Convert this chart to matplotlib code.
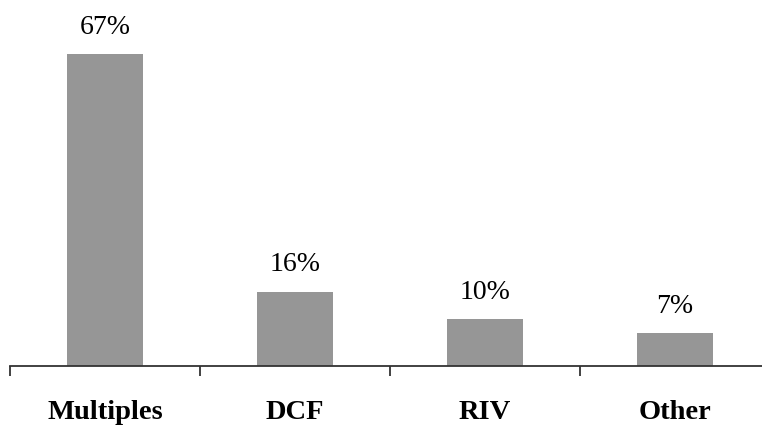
import matplotlib
matplotlib.use("Agg")
import matplotlib.pyplot as plt
import numpy as np

categories = ["Multiples", "DCF", "RIV", "Other"]
shares = [67, 16, 10, 7]
value_labels = ["67%", "16%", "10%", "7%"]

W, H, DPI = 762, 427, 100
fig = plt.figure(figsize=(W / DPI, H / DPI), dpi=DPI)
ax = fig.add_axes([10 / W, 60 / H, 760 / W, 357 / H])

x = np.arange(len(categories))
bars = ax.bar(x, shares, width=0.4, color="#969696", edgecolor="none", zorder=2)

for b, lbl in zip(bars, value_labels):
    ax.annotate(lbl, (b.get_x() + b.get_width() / 2, b.get_height()),
                xytext=(0, 11), textcoords="offset points",
                ha="center", va="bottom", fontsize=20,
                family="Liberation Serif", color="black")

ax.set_xlim(-0.5, len(categories) - 0.5)
ax.set_ylim(0, 76.7)

for side in ("top", "right", "left"):
    ax.spines[side].set_visible(False)
ax.spines["bottom"].set_color("#333333")
ax.spines["bottom"].set_linewidth(1.3)
ax.spines["bottom"].set_zorder(3)
ax.set_yticks([])

ax.set_xticks(np.arange(-0.5, len(categories) + 0.5, 1.0))
ax.set_xticklabels([])
ax.tick_params(axis="x", which="major", direction="out", length=7,
               width=1.3, color="#333333")
ax.set_xticks(x, minor=True)
ax.set_xticklabels(categories, minor=True, fontsize=20.5, fontweight="bold",
                   family="Liberation Serif")
ax.tick_params(axis="x", which="minor", length=0, pad=24)

fig.savefig("out.png", dpi=DPI)
